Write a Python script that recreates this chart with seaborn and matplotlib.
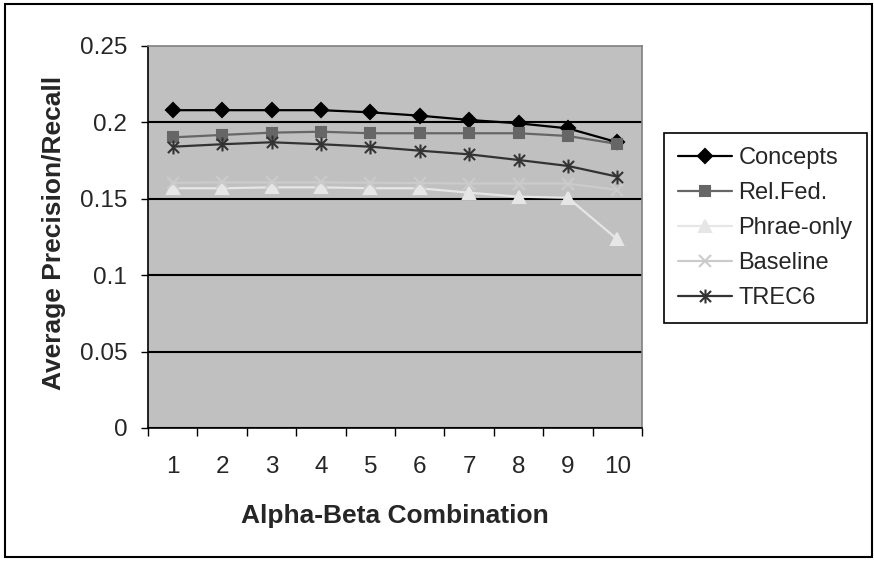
import matplotlib
matplotlib.use("Agg")
import matplotlib.pyplot as plt
import seaborn as sns
from matplotlib.path import Path
from matplotlib.patches import Rectangle

sns.set_style("white")
plt.rcParams["font.family"] = ["Liberation Sans", "DejaVu Sans"]

# data
combos = [1, 2, 3, 4, 5, 6, 7, 8, 9, 10]
concepts = [0.208, 0.208, 0.208, 0.208, 0.2066, 0.2044, 0.2016, 0.1994, 0.1961, 0.187]
rel_fed = [0.1902, 0.1918, 0.1933, 0.1939, 0.1929, 0.1929, 0.1929, 0.1929, 0.1911, 0.1859]
phrase_only = [0.1569, 0.1569, 0.1575, 0.1575, 0.1569, 0.1569, 0.154, 0.1514, 0.1507, 0.1235]
baseline = [0.1605, 0.1607, 0.1607, 0.1607, 0.1605, 0.1603, 0.160, 0.160, 0.160, 0.1558]
trec6 = [0.1841, 0.1857, 0.187, 0.1857, 0.1841, 0.1815, 0.1791, 0.1754, 0.1715, 0.1645]
y_ticks = [0, 0.05, 0.1, 0.15, 0.2, 0.25]
y_ticklabels = ["0", "0.05", "0.1", "0.15", "0.2", "0.25"]

# excel-like star: vertical bar plus an x
star = Path([(0, -1), (0, 1), (-0.8, -0.8), (0.8, 0.8), (-0.8, 0.8), (0.8, -0.8)],
            [Path.MOVETO, Path.LINETO, Path.MOVETO, Path.LINETO, Path.MOVETO, Path.LINETO])

series = [
    ("Concepts", concepts, "#000000", "D", 7),
    ("Rel.Fed.", rel_fed, "#666666", "s", 7.5),
    ("Phrae-only", phrase_only, "#E6E6E6", "^", 8.5),
    ("Baseline", baseline, "#CBCBCB", "x", 8),
    ("TREC6", trec6, "#333333", star, 10),
]

fig = plt.figure(figsize=(8.74, 5.61), dpi=100)
ax = fig.add_axes([148 / 874, 1 - 428 / 561, 494 / 874, 382 / 561])
ax.set_facecolor("#C0C0C0")

for name, vals, col, mk, ms in series:
    sns.lineplot(x=combos, y=vals, ax=ax, color=col, marker=mk, markersize=ms,
                 markerfacecolor=col, markeredgecolor=col, markeredgewidth=1.5,
                 linewidth=1.6, label=name)

ax.set_xlim(0.5, 10.5)
ax.set_ylim(0, 0.25)
ax.set_yticks(y_ticks)
ax.set_yticklabels(y_ticklabels)
ax.set_xticks([c - 0.5 for c in combos] + [10.5])
ax.set_xticklabels([])
ax.set_xticks(combos, minor=True)
ax.set_xticklabels([str(c) for c in combos], minor=True)
ax.tick_params(axis="x", which="major", direction="out", length=6, width=1, color="black", bottom=True)
ax.tick_params(axis="x", which="minor", length=0, pad=20, labelsize=17.5)
ax.tick_params(axis="y", direction="out", length=5, width=1, color="black", left=True,
               pad=10, labelsize=17.5)

ax.yaxis.grid(True, color="black", linewidth=1.5)
ax.get_ygridlines()[-1].set_visible(False)
ax.set_axisbelow(True)
for side in ["top", "right"]:
    ax.spines[side].set_color("#808080")
    ax.spines[side].set_linewidth(1.2)
for side in ["left", "bottom"]:
    ax.spines[side].set_color("black")
    ax.spines[side].set_linewidth(1.2)

ax.set_xlabel("Alpha-Beta Combination", fontsize=19, fontweight="bold")
ax.set_ylabel("Average Precision/Recall", fontsize=19, fontweight="bold")
ax.xaxis.set_label_coords(0.5, -0.2)
ax.yaxis.set_label_coords(-0.165, 0.51)

leg = ax.legend(loc="upper left", bbox_to_anchor=(664 / 874, 1 - 133 / 561),
                bbox_transform=fig.transFigure, borderaxespad=0, fontsize=17,
                frameon=True, fancybox=False, edgecolor="black", framealpha=1,
                handlelength=2.3, handletextpad=0.25, labelspacing=0.55,
                borderpad=0.6)
leg.get_frame().set_linewidth(1.2)

fig.patches.append(Rectangle((5 / 874, 4 / 561), 867 / 874, 553 / 561,
                             transform=fig.transFigure, fill=False,
                             edgecolor="black", linewidth=1.5))

fig.savefig("out.png", dpi=100)
